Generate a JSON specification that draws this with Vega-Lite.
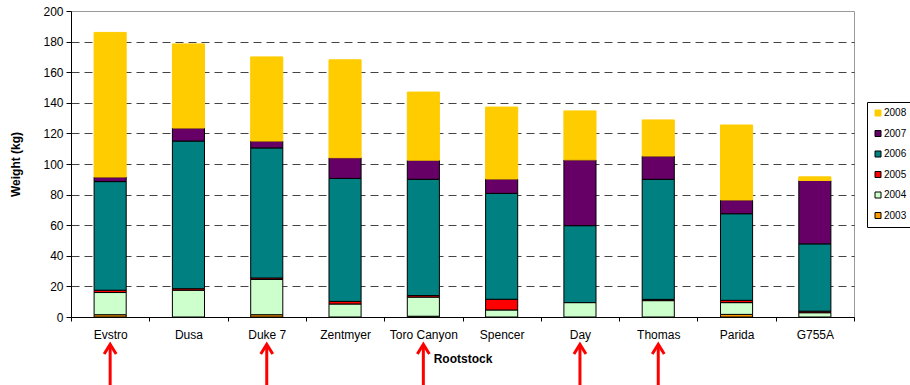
{
  "$schema": "https://vega.github.io/schema/vega-lite/v6.json",
  "width": 783,
  "height": 306,
  "autosize": {"type": "none"},
  "padding": {"left": 71, "top": 11, "right": 56, "bottom": 68},
  "background": "white",
  "config": {
    "font": "Liberation Sans",
    "view": {"stroke": "#9a9a9a", "strokeWidth": 1}
  },
  "datasets": {
    "harvest": [
      {"rootstock": "Evstro", "2003": 1.5, "2004": 14.5, "2005": 1.5, "2006": 71, "2007": 3, "2008": 94.5},
      {"rootstock": "Dusa", "2003": 0, "2004": 17.5, "2005": 1, "2006": 96.5, "2007": 8.5, "2008": 55},
      {"rootstock": "Duke 7", "2003": 1.5, "2004": 23, "2005": 1, "2006": 85, "2007": 4.5, "2008": 55},
      {"rootstock": "Zentmyer", "2003": 0, "2004": 8.5, "2005": 1.7, "2006": 80.4, "2007": 13.5, "2008": 64},
      {"rootstock": "Toro Canyon", "2003": 0.5, "2004": 12.5, "2005": 1, "2006": 76, "2007": 12.5, "2008": 44.5},
      {"rootstock": "Spencer", "2003": 0, "2004": 4.6, "2005": 7, "2006": 69.2, "2007": 9.4, "2008": 47},
      {"rootstock": "Day", "2003": 0, "2004": 9.4, "2005": 0, "2006": 50.3, "2007": 43, "2008": 32},
      {"rootstock": "Thomas", "2003": 0, "2004": 10.7, "2005": 0.8, "2006": 78.5, "2007": 15.2, "2008": 23.6},
      {"rootstock": "Parida", "2003": 1.7, "2004": 7.7, "2005": 1.5, "2006": 56.6, "2007": 9, "2008": 49},
      {"rootstock": "G755A", "2003": 0, "2004": 2.8, "2005": 1, "2006": 44, "2007": 41.4, "2008": 2.4}
    ],
    "highlighted": [
      {"rootstock": "Evstro"},
      {"rootstock": "Duke 7"},
      {"rootstock": "Toro Canyon"},
      {"rootstock": "Day"},
      {"rootstock": "Thomas"}
    ]
  },
  "resolve": {"axis": {"y": "independent"}},
  "layer": [
    {
      "data": {"name": "harvest"},
      "transform": [
        {"fold": ["2003", "2004", "2005", "2006", "2007", "2008"], "as": ["year", "kg"]},
        {"filter": "datum.kg > 0"}
      ],
      "mark": {"type": "bar", "width": {"band": 0.41}, "strokeWidth": 1},
      "encoding": {
        "x": {
          "field": "rootstock",
          "type": "nominal",
          "sort": null,
          "scale": {"paddingInner": 0, "paddingOuter": 0},
          "axis": {
            "title": "Rootstock",
            "titleFontSize": 12,
            "titleFontWeight": "bold",
            "titleColor": "black",
            "titlePadding": 13,
            "labelAngle": 0,
            "labelFontSize": 12,
            "labelColor": "black",
            "labelPadding": 8,
            "labelOverlap": false,
            "tickBand": "extent",
            "tickSize": 4,
            "tickColor": "black",
            "domainColor": "black",
            "grid": false
          }
        },
        "y": {
          "field": "kg",
          "type": "quantitative",
          "stack": "zero",
          "scale": {"domain": [0, 200], "nice": false},
          "axis": {
            "title": "Weight (kg)",
            "titleFontSize": 12,
            "titleFontWeight": "bold",
            "titleColor": "black",
            "titlePadding": 20,
            "values": [0, 20, 40, 60, 80, 100, 120, 140, 160, 180, 200],
            "labelOverlap": false,
            "labelFontSize": 12,
            "labelColor": "black",
            "labelPadding": 3,
            "tickSize": 5,
            "tickColor": "black",
            "domainColor": "black",
            "grid": true,
            "gridColor": "#444",
            "gridDash": [8, 5],
            "gridOpacity": {"condition": {"test": "datum.value == 200", "value": 0}, "value": 1}
          }
        },
        "fill": {
          "field": "year",
          "type": "nominal",
          "scale": {
            "domain": ["2008", "2007", "2006", "2005", "2004", "2003"],
            "range": ["#FFCC00", "#660066", "#008080", "#FF0000", "#CCFFCC", "#FF9900"]
          },
          "legend": {
            "title": null,
            "orient": "none",
            "legendX": 796,
            "legendY": 91,
            "padding": 6,
            "strokeColor": "#000",
            "fillColor": "white",
            "symbolType": "square",
            "symbolSize": 36,
            "symbolStrokeWidth": 1,
            "symbolOpacity": 1,
            "symbolOffset": 0,
            "labelFontSize": 10,
            "labelColor": "black",
            "labelOffset": 1,
            "rowPadding": 10.5
          }
        },
        "stroke": {
          "field": "year",
          "type": "nominal",
          "scale": {
            "domain": ["2008", "2007", "2006", "2005", "2004", "2003"],
            "range": ["#FFCC00", "#000", "#000", "#000", "#000", "#000"]
          },
          "legend": null
        },
        "order": {"field": "year", "sort": "ascending"}
      }
    },
    {
      "data": {"name": "highlighted"},
      "mark": {"type": "rule", "color": "#FF0000", "strokeWidth": 3},
      "encoding": {
        "x": {"field": "rootstock", "type": "nominal", "sort": null},
        "y": {"datum": -18.5, "axis": null},
        "y2": {"datum": -48}
      }
    },
    {
      "data": {"name": "highlighted"},
      "mark": {
        "type": "point",
        "shape": "M-1,0.8L0,-0.8L1,0.8",
        "filled": false,
        "size": 144,
        "stroke": "#FF0000",
        "strokeWidth": 3,
        "opacity": 1
      },
      "encoding": {
        "x": {"field": "rootstock", "type": "nominal", "sort": null},
        "y": {"datum": -21, "axis": null}
      }
    }
  ]
}
